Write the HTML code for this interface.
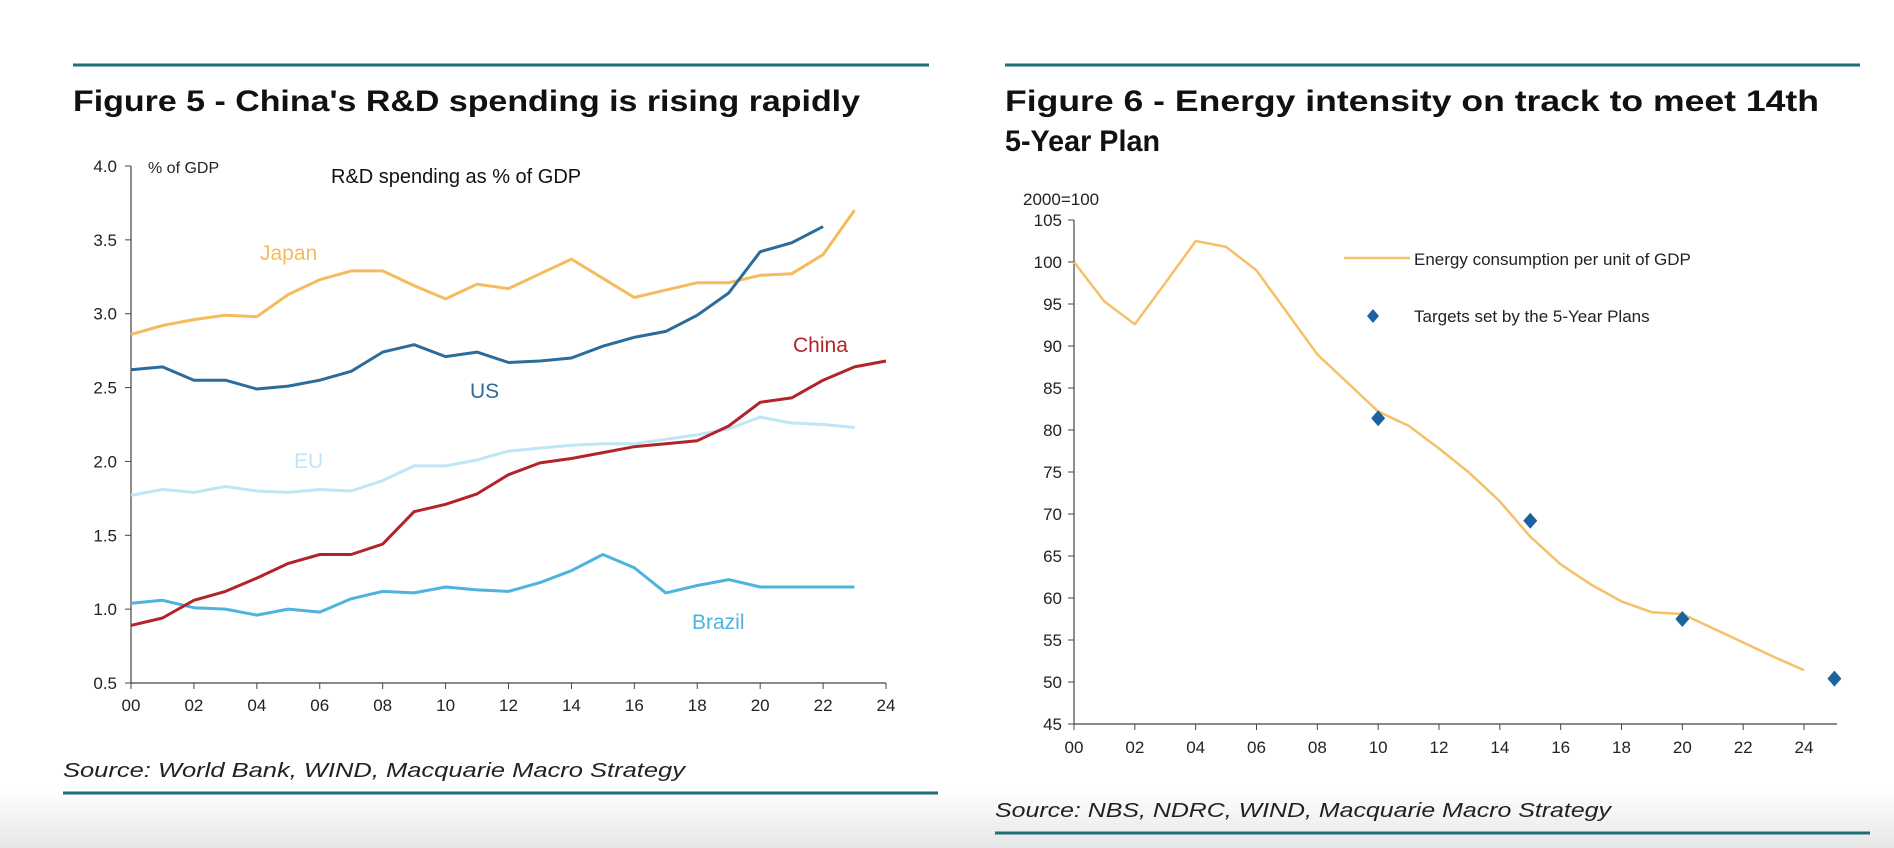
<!DOCTYPE html>
<html><head><meta charset="utf-8"><style>
html,body{margin:0;padding:0;background:#fff;}
svg{display:block;font-family:"Liberation Sans",Arial,sans-serif;}
</style></head><body>
<svg id="c" width="1894" height="848" viewBox="0 0 1894 848">
<defs><linearGradient id="g" x1="0" y1="0" x2="0" y2="1"><stop offset="0" stop-color="#fff"/><stop offset="1" stop-color="#e6e6e6"/></linearGradient></defs>
<rect x="0" y="790" width="1894" height="58" fill="url(#g)"/>
<line x1="73" y1="65" x2="929" y2="65" stroke="#1f6e78" stroke-width="3"/>
<line x1="1005" y1="65" x2="1860" y2="65" stroke="#1f6e78" stroke-width="3"/>
<line x1="63" y1="793" x2="938" y2="793" stroke="#1f6e78" stroke-width="3"/>
<line x1="995" y1="833" x2="1870" y2="833" stroke="#1f6e78" stroke-width="3"/>
<text x="73" y="111" font-size="30" font-weight="bold" fill="#111" textLength="787" lengthAdjust="spacingAndGlyphs">Figure 5 - China's R&amp;D spending is rising rapidly</text>
<text x="1005" y="111" font-size="30" font-weight="bold" fill="#111" textLength="814" lengthAdjust="spacingAndGlyphs">Figure 6 - Energy intensity on track to meet 14th</text>
<text x="1005" y="151" font-size="30" font-weight="bold" fill="#111" textLength="155" lengthAdjust="spacingAndGlyphs">5-Year Plan</text>
<text x="63" y="777" font-size="20" font-style="italic" fill="#222" textLength="622" lengthAdjust="spacingAndGlyphs">Source: World Bank, WIND, Macquarie Macro Strategy</text>
<text x="995" y="817" font-size="20" font-style="italic" fill="#222" textLength="616" lengthAdjust="spacingAndGlyphs">Source: NBS, NDRC, WIND, Macquarie Macro Strategy</text>
<g id="left"></g><g id="right"></g>
</svg>
<script>
const years=[0,1,2,3,4,5,6,7,8,9,10,11,12,13,14,15,16,17,18,19,20,21,22,23,24];
const japan=[2.86,2.92,2.96,2.99,2.98,3.13,3.23,3.29,3.29,3.19,3.10,3.20,3.17,3.27,3.37,3.24,3.11,3.16,3.21,3.21,3.26,3.27,3.40,3.70];
const us=[2.62,2.64,2.55,2.55,2.49,2.51,2.55,2.61,2.74,2.79,2.71,2.74,2.67,2.68,2.70,2.78,2.84,2.88,2.99,3.14,3.42,3.48,3.59];
const eu=[1.77,1.81,1.79,1.83,1.80,1.79,1.81,1.80,1.87,1.97,1.97,2.01,2.07,2.09,2.11,2.12,2.12,2.15,2.18,2.22,2.30,2.26,2.25,2.23];
const china=[0.89,0.94,1.06,1.12,1.21,1.31,1.37,1.37,1.44,1.66,1.71,1.78,1.91,1.99,2.02,2.06,2.10,2.12,2.14,2.24,2.40,2.43,2.55,2.64,2.68];
const brazil=[1.04,1.06,1.01,1.00,0.96,1.00,0.98,1.07,1.12,1.11,1.15,1.13,1.12,1.18,1.26,1.37,1.28,1.11,1.16,1.20,1.15,1.15,1.15,1.15];
const leftYTicks=[0.5,1.0,1.5,2.0,2.5,3.0,3.5,4.0];
const xTickLabels=["00","02","04","06","08","10","12","14","16","18","20","22","24"];
const energy=[100,95.3,92.6,97.5,102.5,101.8,99,94,89,85.6,82.2,80.5,77.8,74.9,71.5,67.3,64,61.6,59.6,58.3,58.1,56.4,54.7,53,51.4];
const targetYears=[10,15,20,25];
const targets=[81.4,69.2,57.5,50.4];
const rightYTicks=[45,50,55,60,65,70,75,80,85,90,95,100,105];
const NS="http://www.w3.org/2000/svg";
function mk(p,t,a){const e=document.createElementNS(NS,t);for(const k in a)e.setAttribute(k,a[k]);p.appendChild(e);return e;}
const L=document.getElementById('left');
const lx=v=>131+(v/24)*(886-131), ly=v=>683-(v-0.5)/3.5*(683-166);
let e=mk(L,'line',{x1:131,y1:166,x2:131,y2:683,stroke:'#444','stroke-width':1.2});

e=mk(L,'line',{x1:131,y1:683,x2:886,y2:683,stroke:'#444','stroke-width':1.2});

leftYTicks.forEach(v=>{mk(L,'line',{x1:125,x2:131,y1:ly(v),y2:ly(v),stroke:'#444'});
 const t=mk(L,'text',{x:117,y:ly(v)+6,'font-size':17,'text-anchor':'end',fill:'#222'});t.textContent=v.toFixed(1);
 });
xTickLabels.forEach((s,i)=>{const x=lx(i*2);mk(L,'line',{x1:x,x2:x,y1:683,y2:689,stroke:'#444'});
 const t=mk(L,'text',{x:x,y:711,'font-size':17,'text-anchor':'middle',fill:'#222'});t.textContent=s;
 });
function line(g,arr,xf,yf,col,name,w){const d=arr.map((v,i)=>(i?'L':'M')+xf(years[i]).toFixed(1)+' '+yf(v).toFixed(1)).join(' ');
 const p=mk(g,'path',{d:d,fill:'none',stroke:col,'stroke-width':w||3,'stroke-linejoin':'round'});
 }
line(L,eu,lx,ly,'#bfe6f6','eu-line');line(L,brazil,lx,ly,'#4db3df','brazil-line');
line(L,japan,lx,ly,'#f5bb5e','japan-line');line(L,us,lx,ly,'#2b6c9c','us-line');line(L,china,lx,ly,'#b3232b','china-line');
function lbl(g,x,y,s,col,size,name,anchor){const t=mk(g,'text',{x:x,y:y,'font-size':size,fill:col,'text-anchor':anchor||'start'});t.textContent=s;
 }
lbl(L,260,260,'Japan','#f5bb5e',21,'japan-label');lbl(L,470,398,'US','#2b6c9c',21,'us-label');
lbl(L,294,468,'EU','#bfe6f6',21,'eu-label');lbl(L,793,352,'China','#b3232b',21,'china-label');
lbl(L,692,629,'Brazil','#4db3df',21,'brazil-label');
lbl(L,148,173,'% of GDP','#222',16,'fig5-y-unit');lbl(L,331,183,'R&D spending as % of GDP','#111',20,'fig5-subtitle');
const R=document.getElementById('right');
const rx=v=>1074+(v/24)*(1804-1074), ry=v=>724-(v-45)/60*(724-220);
e=mk(R,'line',{x1:1074,y1:220,x2:1074,y2:724,stroke:'#444','stroke-width':1.2});

e=mk(R,'line',{x1:1074,y1:724,x2:1837,y2:724,stroke:'#444','stroke-width':1.2});

rightYTicks.forEach(v=>{mk(R,'line',{x1:1068,x2:1074,y1:ry(v),y2:ry(v),stroke:'#444'});
 const t=mk(R,'text',{x:1062,y:ry(v)+6,'font-size':17,'text-anchor':'end',fill:'#222'});t.textContent=v;
 });
xTickLabels.forEach((s,i)=>{const x=rx(i*2);mk(R,'line',{x1:x,x2:x,y1:724,y2:730,stroke:'#444'});
 const t=mk(R,'text',{x:x,y:753,'font-size':17,'text-anchor':'middle',fill:'#222'});t.textContent=s;
 });
line(R,energy,rx,ry,'#f5c068','energy-line',2.5);
targets.forEach((v,i)=>{const x=rx(targetYears[i]),y=ry(v);
 const p=mk(R,'path',{d:`M${x} ${y-8} L${x+7} ${y} L${x} ${y+8} L${x-7} ${y} Z`,fill:'#1b63a0'});
 });
lbl(R,1023,205,'2000=100','#222',17,'fig6-y-unit');
mk(R,'line',{x1:1344,x2:1410,y1:258,y2:258,stroke:'#f5c068','stroke-width':2.5});
lbl(R,1414,265,'Energy consumption per unit of GDP','#222',17,'legend-energy');
mk(R,'path',{d:'M1373 309 L1379 316 L1373 323 L1367 316 Z',fill:'#1b63a0'});
lbl(R,1414,322,'Targets set by the 5-Year Plans','#222',17,'legend-targets');
</script>
</body></html>
